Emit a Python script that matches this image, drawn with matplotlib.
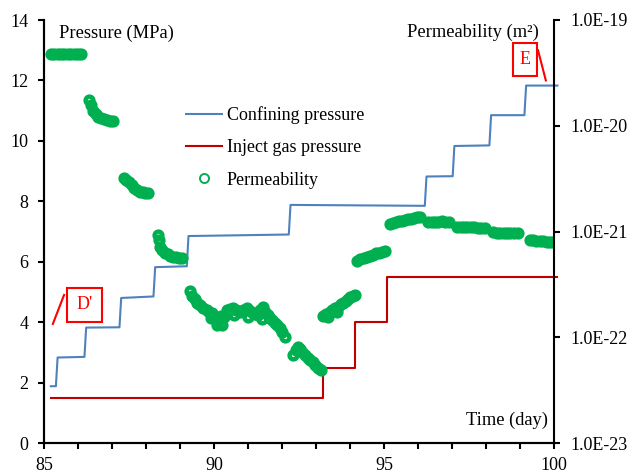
import numpy as np
import matplotlib.pyplot as plt
from matplotlib.lines import Line2D
from matplotlib.patches import Rectangle
from matplotlib.ticker import FixedLocator, FuncFormatter, MultipleLocator, NullLocator

plt.rcParams["font.family"] = ["Liberation Serif", "DejaVu Serif"]

# ------------------------------------------------------------------
# Data
# ------------------------------------------------------------------
# confining pressure (MPa), step curve
conf_t = [85.2, 85.35, 85.4, 86.19, 86.24, 87.22, 87.27, 88.22, 88.27, 89.2, 89.25,
          92.2, 92.25, 96.2, 96.25, 97.02, 97.07, 98.1, 98.15, 99.13, 99.18, 100.1]
conf_p = [1.88, 1.88, 2.83, 2.85, 3.82, 3.83, 4.80, 4.85, 5.82, 5.85, 6.85,
          6.90, 7.88, 7.85, 8.82, 8.83, 9.83, 9.85, 10.85, 10.85, 11.83, 11.83]

# injected gas pressure (MPa)
gas_t = [85.2, 93.2, 93.2, 94.15, 94.15, 95.1, 95.1, 100.1]
gas_p = [1.5, 1.5, 2.47, 2.47, 4.0, 4.0, 5.5, 5.5]

# permeability (m2), measured segments
perm_day_a = [85.22, 85.3, 85.4, 85.5, 85.6, 85.7, 85.8, 85.9, 86.0, 86.09]
perm_k_a = [4.80e-20, 4.78e-20, 4.79e-20, 4.80e-20, 4.78e-20, 4.79e-20, 4.80e-20,
            4.79e-20, 4.78e-20, 4.79e-20]

perm_day_b = [86.32, 86.38, 86.45, 86.52, 86.60, 86.68, 86.76, 86.85, 86.94, 87.03]
perm_k_b = [1.76e-20, 1.58e-20, 1.39e-20, 1.28e-20, 1.21e-20, 1.18e-20, 1.15e-20,
            1.13e-20, 1.12e-20, 1.11e-20]

perm_day_c = [87.35, 87.42, 87.50, 87.58, 87.66, 87.74, 87.82, 87.90, 87.98, 88.05]
perm_k_c = [3.21e-21, 3.10e-21, 2.92e-21, 2.74e-21, 2.56e-21, 2.45e-21, 2.38e-21,
            2.35e-21, 2.32e-21, 2.32e-21]

perm_day_d = [88.35, 88.37, 88.42, 88.48, 88.56, 88.64, 88.72, 88.80, 88.88, 88.96, 89.05]
perm_k_d = [9.31e-22, 8.32e-22, 7.15e-22, 6.65e-22, 6.27e-22, 6.07e-22, 5.91e-22,
            5.79e-22, 5.71e-22, 5.64e-22, 5.61e-22]

perm_day_e = [89.29, 89.36, 89.43, 89.50, 89.58, 89.68, 89.78, 89.86, 89.90, 89.94,
              90.02, 90.09, 90.10, 90.17, 90.20, 90.24, 90.30, 90.38, 90.47, 90.56,
              90.60, 90.66, 90.76, 90.86, 90.97, 91.00, 91.06, 91.15, 91.22, 91.29,
              91.36, 91.40, 91.44, 91.50, 91.58, 91.65, 91.72, 91.79, 91.86, 91.93,
              92.00, 92.09]
perm_k_e = [2.74e-22, 2.45e-22, 2.30e-22, 2.12e-22, 2.02e-22, 1.89e-22, 1.80e-22,
            1.72e-22, 1.52e-22, 1.69e-22, 1.55e-22, 1.46e-22, 1.30e-22, 1.38e-22,
            1.60e-22, 1.31e-22, 1.55e-22, 1.81e-22, 1.85e-22, 1.89e-22, 1.62e-22,
            1.80e-22, 1.74e-22, 1.82e-22, 1.89e-22, 1.55e-22, 1.78e-22, 1.69e-22,
            1.65e-22, 1.63e-22, 1.80e-22, 1.50e-22, 1.93e-22, 1.75e-22, 1.63e-22,
            1.52e-22, 1.45e-22, 1.36e-22, 1.30e-22, 1.23e-22, 1.13e-22, 1.01e-22]

perm_day_f = [92.32, 92.40, 92.47, 92.53, 92.60, 92.68, 92.76, 92.83, 92.90, 92.97,
              93.06, 93.15]
perm_k_f = [6.78e-23, 7.50e-23, 8.11e-23, 7.80e-23, 7.20e-23, 6.78e-23, 6.40e-23,
            6.10e-23, 5.80e-23, 5.50e-23, 5.11e-23, 4.91e-23]

perm_day_g = [93.22, 93.28, 93.35, 93.40, 93.47, 93.55, 93.62, 93.66, 93.73, 93.80,
              93.87, 93.94, 94.01, 94.08, 94.15]
perm_k_g = [1.58e-22, 1.66e-22, 1.55e-22, 1.72e-22, 1.80e-22, 1.88e-22, 1.74e-22,
            1.95e-22, 2.05e-22, 2.12e-22, 2.22e-22, 2.30e-22, 2.38e-22, 2.45e-22,
            2.51e-22]

perm_day_h = [94.21, 94.30, 94.40, 94.50, 94.59, 94.68, 94.77, 94.86, 94.95, 95.03,
              95.18, 95.27, 95.36, 95.45, 95.53, 95.62, 95.71, 95.80, 95.89, 95.97,
              96.06, 96.30, 96.40, 96.50, 96.60, 96.70, 96.80, 96.90]
perm_k_h = [5.28e-22, 5.45e-22, 5.62e-22, 5.75e-22, 5.87e-22, 6.05e-22, 6.20e-22,
            6.32e-22, 6.45e-22, 6.56e-22, 1.18e-21, 1.21e-21, 1.23e-21, 1.25e-21,
            1.27e-21, 1.28e-21, 1.30e-21, 1.32e-21, 1.34e-21, 1.36e-21, 1.37e-21,
            1.22e-21, 1.23e-21, 1.24e-21, 1.24e-21, 1.25e-21, 1.24e-21, 1.23e-21]

perm_day_i = [97.15, 97.25, 97.35, 97.45, 97.55, 97.65, 97.75, 97.85, 97.97,
              98.22, 98.32, 98.42, 98.52, 98.62, 98.72, 98.82, 98.94,
              99.28, 99.38, 99.48, 99.58, 99.68, 99.78, 99.88, 99.97]
perm_k_i = [1.11e-21, 1.11e-21, 1.10e-21, 1.10e-21, 1.10e-21, 1.10e-21, 1.09e-21,
            1.09e-21, 1.09e-21, 9.80e-22, 9.75e-22, 9.70e-22, 9.70e-22, 9.65e-22,
            9.65e-22, 9.60e-22, 9.60e-22, 8.40e-22, 8.30e-22, 8.20e-22, 8.15e-22,
            8.10e-22, 8.00e-22, 7.95e-22, 7.90e-22]

perm_t = np.concatenate([perm_day_a, perm_day_b, perm_day_c, perm_day_d, perm_day_e,
                         perm_day_f, perm_day_g, perm_day_h, perm_day_i])
perm_k = np.concatenate([perm_k_a, perm_k_b, perm_k_c, perm_k_d, perm_k_e,
                         perm_k_f, perm_k_g, perm_k_h, perm_k_i])

blue = "#4F81BD"
red = "#C00000"
green = "#00B050"

# ------------------------------------------------------------------
# Figure
# ------------------------------------------------------------------
fig = plt.figure(figsize=(6.33, 4.74), dpi=100)
ax = fig.add_axes([44 / 633, 31 / 474, 510 / 633, 423 / 474])
ax2 = ax.twinx()

ax.plot(conf_t, conf_p, color=blue, lw=1.5, clip_on=False)
ax.plot(gas_t, gas_p, color=red, lw=1.5, clip_on=False)

ax2.set_yscale("log")
ax2.plot(perm_t, perm_k, "o", mfc="none", mec=green, ms=5.6, mew=3.2, ls="none")

ax.set_xlim(85, 100)
ax.set_ylim(0, 14)
ax2.set_ylim(1e-23, 1e-19)

ax.set_xticks([85, 90, 95, 100])
ax.xaxis.set_minor_locator(MultipleLocator(1))
ax.set_yticks(range(0, 15, 2))
ax2.yaxis.set_major_locator(FixedLocator([1e-23, 1e-22, 1e-21, 1e-20, 1e-19]))
ax2.yaxis.set_minor_locator(NullLocator())
ax2.yaxis.set_major_formatter(FuncFormatter(lambda v, p: "1.0E%d" % round(np.log10(v))))

ax.tick_params(axis="x", which="both", direction="out", length=4, width=1.5,
               labelsize=13, pad=6)
ax.tick_params(axis="y", direction="out", length=4, width=1.5, labelsize=13, pad=7)
ax2.tick_params(axis="y", direction="out", length=4, width=1.5, labelsize=13, pad=8)

for a in (ax, ax2):
    a.spines["top"].set_visible(False)
    for s in ("left", "right", "bottom"):
        a.spines[s].set_linewidth(1.5)
ax.spines["right"].set_visible(False)

# axis titles inside the plot
fig.text(59 / 633, 1 - 33 / 474, "Pressure (MPa)", fontsize=13.3, ha="left", va="center")
fig.text(539 / 633, 1 - 32 / 474, "Permeability (m²)", fontsize=13.3, ha="right", va="center")
fig.text(548 / 633, 1 - 420 / 474, "Time (day)", fontsize=13.3, ha="right", va="center")

# legend
handles = [
    Line2D([], [], color=blue, lw=1.5),
    Line2D([], [], color=red, lw=1.5),
    Line2D([], [], marker="o", mfc="none", mec=green, ms=6.5, mew=1.4, ls="none"),
]
labels = ["Confining pressure", "Inject gas pressure", "Permeability"]
ax2.legend(handles, labels, loc="upper left", bbox_to_anchor=(186 / 633, 1 - 106 / 474),
           bbox_transform=fig.transFigure, frameon=False, fontsize=13,
           handlelength=2.0, handletextpad=0.25, labelspacing=0.85, borderpad=0,
           borderaxespad=0)

# stage markers D' and E
ax.add_patch(Rectangle((85.68, 4.0), 1.03, 1.13, fill=False, ec="red", lw=1.5, clip_on=False))
ax.text(86.19, 4.57, "D'", color="red", fontsize=13, ha="center", va="center")
ax.plot([85.26, 85.59], [3.94, 4.9], color="red", lw=1.5)

ax.add_patch(Rectangle((98.79, 12.15), 0.71, 1.1, fill=False, ec="red", lw=1.5, clip_on=False))
ax.text(99.15, 12.68, "E", color="red", fontsize=13, ha="center", va="center")
ax.plot([99.53, 99.76], [13.0, 12.0], color="red", lw=1.5)

fig.savefig("out.png", dpi=100)
